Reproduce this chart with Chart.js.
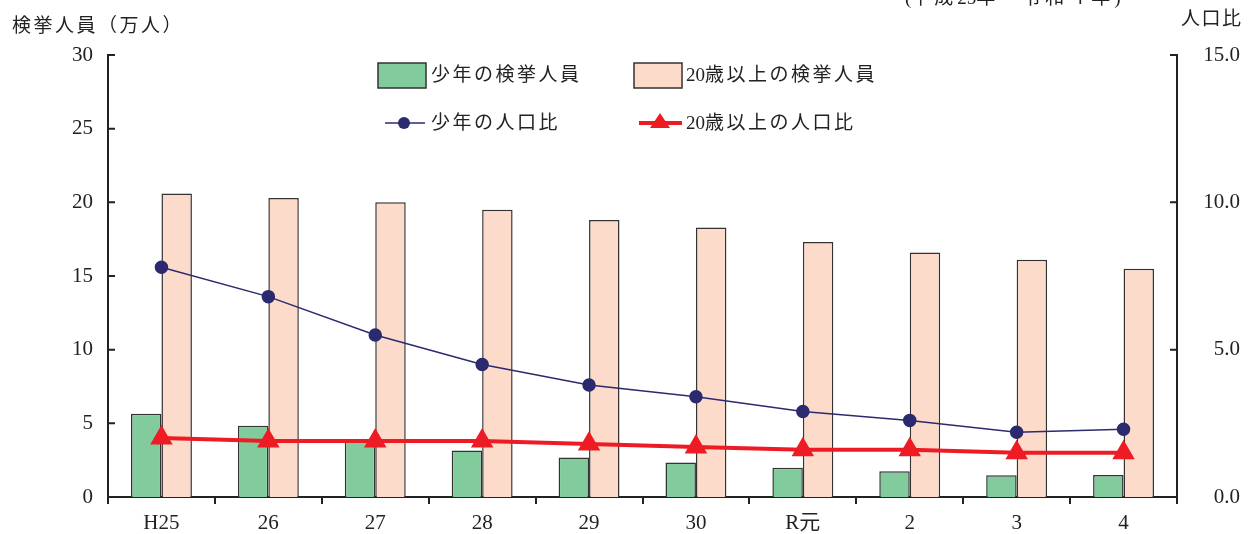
<!DOCTYPE html>
<html>
<head>
<meta charset="utf-8">
<script src="https://cdn.jsdelivr.net/npm/chart.js@4.4.1/dist/chart.umd.min.js"></script>
<style>
  body { margin: 0; background: #fff; }
  #wrap { width: 1251px; height: 534px; position: relative; }
</style>
</head>
<body>
<div id="wrap"><canvas id="mycanvas"></canvas></div>
<script>
// 年次
var years = ["H25", "26", "27", "28", "29", "30", "R元", "2", "3", "4"];
// 検挙人員（万人）
var youthArrests = [5.65, 4.84, 3.89, 3.15, 2.68, 2.35, 1.99, 1.75, 1.48, 1.49];
var adultArrests = [20.6, 20.3, 20.0, 19.5, 18.8, 18.3, 17.3, 16.6, 16.1, 15.5];
// 人口比
var youthRatio = [7.8, 6.8, 5.5, 4.5, 3.8, 3.4, 2.9, 2.6, 2.2, 2.3];
var adultRatio = [2.0, 1.9, 1.9, 1.9, 1.8, 1.7, 1.6, 1.6, 1.5, 1.5];

var labelFont = "'Liberation Serif', 'Noto Sans CJK JP', serif";
var axisColor = '#222';

var chartdata = {
	labels: years,
	datasets: [
		{
			type: 'line',
			label: '少年の人口比',
			data: youthRatio,
			yAxisID: 'y2',
			borderColor: '#2b2a6e',
			backgroundColor: '#2b2a6e',
			borderWidth: 1.5,
			pointRadius: 6,
			pointStyle: 'circle',
			tension: 0,
			order: 0
		},
		{
			type: 'line',
			label: '20歳以上の人口比',
			data: adultRatio,
			yAxisID: 'y2',
			borderColor: '#ed1c24',
			backgroundColor: '#ed1c24',
			borderWidth: 4,
			pointRadius: 9,
			pointStyle: 'triangle',
			tension: 0,
			order: 0
		},
		{
			label: '少年の検挙人員',
			data: youthArrests,
			yAxisID: 'y',
			backgroundColor: '#82cb9c',
			borderColor: '#333',
			borderWidth: 1.5,
			order: 1
		},
		{
			label: '20歳以上の検挙人員',
			data: adultArrests,
			yAxisID: 'y',
			backgroundColor: '#fcdbcb',
			borderColor: '#333',
			borderWidth: 1.5,
			order: 1
		}
	]
};

// 全角文字だけ字間をあける
function spacedText(ctx, text, x, y, gap) {
	for (var i = 0; i < text.length; i++) {
		var ch = text[i];
		ctx.fillText(ch, x, y);
		x += ctx.measureText(ch).width + (ch.charCodeAt(0) > 255 ? gap : 0);
	}
}

// 凡例・軸タイトル・内向きの目盛り
var extras = {
	id: 'extras',
	afterDraw: function(chart) {
		var ctx = chart.ctx;
		var y = chart.scales.y, y2 = chart.scales.y2;
		var area = chart.chartArea;
		ctx.save();
		ctx.strokeStyle = axisColor;
		ctx.lineWidth = 2;
		ctx.beginPath();
		for (var v = 5; v <= 30; v += 5) {
			var py = y.getPixelForValue(v);
			ctx.moveTo(area.left, py);
			ctx.lineTo(area.left + 7, py);
		}
		for (var w = 5; w <= 15; w += 5) {
			var qy = y2.getPixelForValue(w);
			ctx.moveTo(area.right, qy);
			ctx.lineTo(area.right - 7, qy);
		}
		ctx.stroke();

		ctx.fillStyle = '#222';
		ctx.font = '19px ' + labelFont;
		ctx.textBaseline = 'middle';
		ctx.textAlign = 'left';
		spacedText(ctx, '検挙人員（万人）', 12, 27, 2.5);
		spacedText(ctx, '人口比', 1181, 20, 1.5);
		spacedText(ctx, '(平成25年～令和４年)', 905, -1, 4);

		// legend
		var ds = chart.data.datasets;
		ctx.lineWidth = 1.5;
		ctx.strokeStyle = '#333';
		ctx.fillStyle = ds[2].backgroundColor;
		ctx.fillRect(378, 63, 48, 25);
		ctx.strokeRect(378, 63, 48, 25);
		ctx.fillStyle = ds[3].backgroundColor;
		ctx.fillRect(634, 63, 48, 25);
		ctx.strokeRect(634, 63, 48, 25);

		ctx.strokeStyle = ds[0].borderColor;
		ctx.lineWidth = 1.5;
		ctx.beginPath();
		ctx.moveTo(385, 123); ctx.lineTo(425, 123);
		ctx.stroke();
		ctx.fillStyle = ds[0].backgroundColor;
		ctx.beginPath();
		ctx.arc(404, 123, 6, 0, Math.PI * 2);
		ctx.fill();

		ctx.strokeStyle = ds[1].borderColor;
		ctx.lineWidth = 4;
		ctx.beginPath();
		ctx.moveTo(639, 123); ctx.lineTo(682, 123);
		ctx.stroke();
		ctx.fillStyle = ds[1].backgroundColor;
		ctx.beginPath();
		ctx.moveTo(660, 113); ctx.lineTo(670, 128); ctx.lineTo(650, 128);
		ctx.closePath();
		ctx.fill();

		ctx.fillStyle = '#222';
		spacedText(ctx, ds[2].label, 431, 76, 2.5);
		spacedText(ctx, ds[3].label, 686, 76, 2.5);
		spacedText(ctx, ds[0].label, 431, 124, 2.5);
		spacedText(ctx, ds[1].label, 686, 124, 2.5);
		ctx.restore();
	}
};

var ctx = document.getElementById('mycanvas');
var barGraph = new Chart(ctx, {
	type: 'bar',
	data: chartdata,
	plugins: [extras],
	options: {
		responsive: true,
		maintainAspectRatio: false,
		animation: false,
		events: [],
		layout: { padding: { top: 55, right: 11, left: 0, bottom: 0 } },
		plugins: { legend: { display: false }, tooltip: { enabled: false } },
		datasets: { bar: { categoryPercentage: 0.57, barPercentage: 1.0 } },
		scales: {
			x: {
				grid: { display: true, drawOnChartArea: false, drawTicks: true, tickLength: 7, color: axisColor, lineWidth: 2, offset: true },
				border: { display: true, color: axisColor, width: 2 },
				ticks: { color: '#222', padding: 7, font: { family: labelFont, size: 21 }, maxRotation: 0 },
				afterFit: function(s) { s.height = 37; }
			},
			y: {
				position: 'left',
				min: 0, max: 30,
				grid: { display: false, drawTicks: false },
				border: { display: true, color: axisColor, width: 2 },
				ticks: { stepSize: 5, color: '#222', padding: 15, font: { family: labelFont, size: 21 } },
				afterFit: function(s) { s.width = 108; }
			},
			y2: {
				position: 'right',
				min: 0, max: 15,
				grid: { display: false, drawTicks: false },
				border: { display: true, color: axisColor, width: 2 },
				ticks: { stepSize: 5, color: '#222', padding: 8, crossAlign: 'far', font: { family: labelFont, size: 21 },
					callback: function(v) { return Number(v).toFixed(1); } },
				afterFit: function(s) { s.width = 63; }
			}
		}
	}
});
</script>
</body>
</html>
